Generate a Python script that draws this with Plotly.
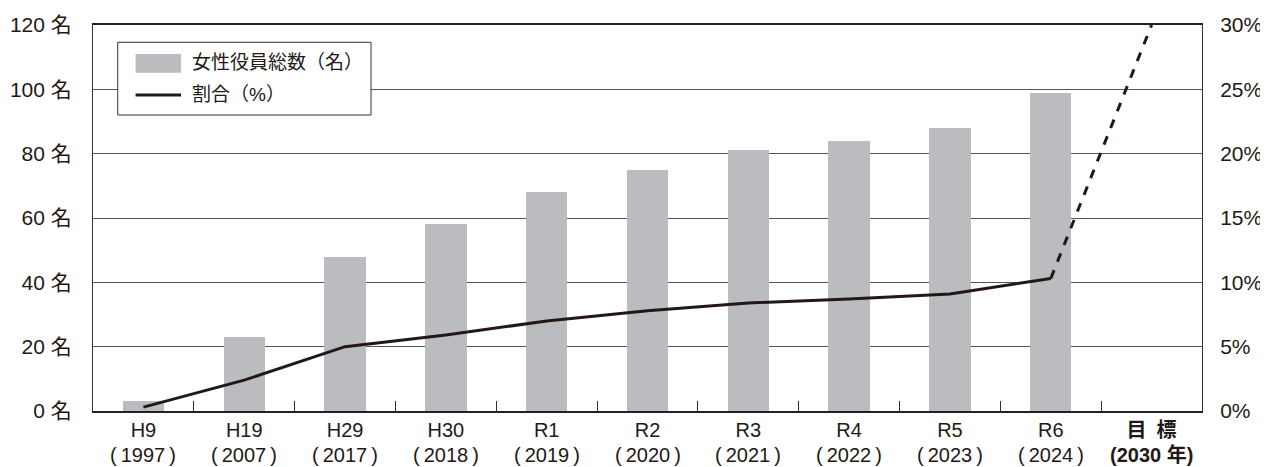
import plotly.graph_objects as go

T = "\u2009"  # thin space
categories = ["H9", "H19", "H29", "H30", "R1", "R2", "R3", "R4", "R5", "R6", "目標"]
era_labels = ["H9", "H19", "H29", "H30", "R1", "R2", "R3", "R4", "R5", "R6", "<b>目\u2002標</b>"]
year_labels = [f"({T}1997{T})", f"({T}2007{T})", f"({T}2017{T})", f"({T}2018{T})",
               f"({T}2019{T})", f"({T}2020{T})", f"({T}2021{T})", f"({T}2022{T})",
               f"({T}2023{T})", f"({T}2024{T})", "<b>(2030 年)</b>"]
officers = [3, 23, 48, 58, 68, 75, 81, 84, 88, 99, None]
ratio = [0.3, 2.4, 5.0, 5.9, 7.0, 7.8, 8.4, 8.7, 9.1, 10.3]
target_cats = ["R6", "目標"]
target_ratio = [10.3, 30.0]
legend_labels = ["女性役員総数（名）", "割合（%）"]

FONT = "Liberation Sans, Noto Sans CJK JP, sans-serif"
INK = "#231815"
BAR = "#bbbcbf"

fig = go.Figure()
fig.add_trace(go.Bar(x=categories, y=officers, name=legend_labels[0], showlegend=False,
                     marker=dict(color=BAR, line=dict(width=0)), width=0.41))
fig.add_trace(go.Scatter(x=categories[:len(ratio)], y=ratio, name=legend_labels[1], yaxis="y2",
                         showlegend=False, mode="lines", line=dict(color=INK, width=3)))
fig.add_trace(go.Scatter(x=target_cats, y=target_ratio, yaxis="y2", showlegend=False,
                         mode="lines", line=dict(color=INK, width=3, dash="dash"), cliponaxis=False))

# hand-drawn legend box (paper coordinates)
shapes = [
    dict(type="rect", xref="paper", yref="paper", x0=0.0223, x1=0.2507, y0=0.7668, y1=0.9552,
         fillcolor="white", line=dict(color="#333", width=1), layer="above"),
    dict(type="rect", xref="paper", yref="paper", x0=0.0384, x1=0.0794, y0=0.8764, y1=0.9249,
         fillcolor=BAR, line=dict(width=0), layer="above"),
    dict(type="line", xref="paper", yref="paper", x0=0.0384, x1=0.0794, y0=0.8187, y1=0.8187,
         line=dict(color=INK, width=3), layer="above"),
]
annotations = [
    dict(xref="paper", yref="paper", x=0.0875, y=0.9016, text=legend_labels[0], showarrow=False,
         xanchor="left", yanchor="middle", font=dict(size=19, color=INK)),
    dict(xref="paper", yref="paper", x=0.0875, y=0.8187, text=legend_labels[1], showarrow=False,
         xanchor="left", yanchor="middle", font=dict(size=19, color=INK)),
]
for cat, yl in zip(categories, year_labels):
    annotations.append(dict(xref="x", yref="paper", x=cat, y=0, yshift=-44, text=yl,
                            showarrow=False, xanchor="center", yanchor="middle",
                            font=dict(size=20, color=INK)))

fig.update_layout(
    width=1260, height=459,
    margin=dict(l=85, r=66, t=17, b=56, autoexpand=False),
    paper_bgcolor="white", plot_bgcolor="white",
    font=dict(family=FONT, size=21, color=INK),
    bargap=0, showlegend=False,
    shapes=shapes, annotations=annotations,
    xaxis=dict(type="category", categoryorder="array", categoryarray=categories,
               tickmode="array", tickvals=categories, ticktext=era_labels, tickangle=0,
               tickson="boundaries", ticks="inside", ticklen=10, tickcolor="#333", tickwidth=1,
               showline=True, linecolor="#222", linewidth=1.5, mirror=True,
               showgrid=False, range=[-0.5, 10.5], tickfont=dict(size=20), automargin=False),
    yaxis=dict(range=[0, 120], dtick=20, ticksuffix=" 名", showgrid=True,
               gridcolor="#555", gridwidth=1, showline=True, linecolor="#333", linewidth=1,
               ticks="", ticklabelstandoff=16, zeroline=False, automargin=False),
    yaxis2=dict(range=[0, 30], dtick=5, ticksuffix="%", overlaying="y", side="right",
                showgrid=False, showline=True, linecolor="#333", linewidth=1,
                ticks="", ticklabelstandoff=13, zeroline=False, automargin=False),
)

fig.write_html("out.html")
